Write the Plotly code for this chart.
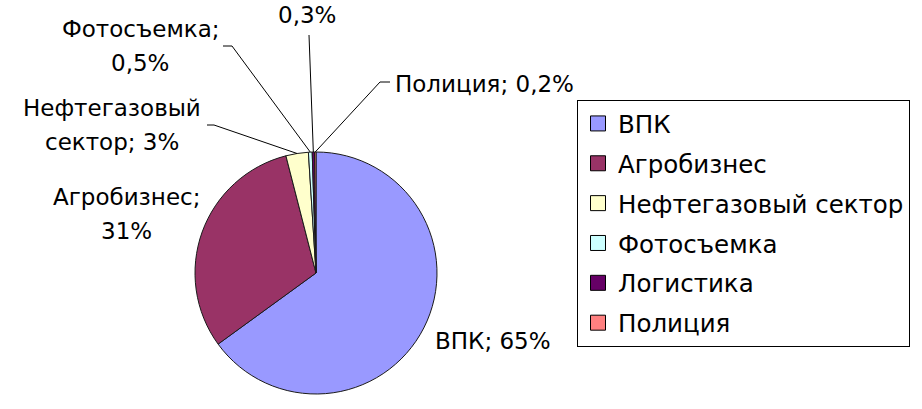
import math
import plotly.graph_objects as go

categories = ["ВПК", "Агробизнес", "Нефтегазовый сектор", "Фотосъемка", "Логистика", "Полиция"]
values = [65, 31, 3, 0.5, 0.3, 0.2]
value_labels = ["65%", "31%", "3%", "0,5%", "0,3%", "0,2%"]
colors = ["#9999FF", "#993366", "#FFFFCC", "#CCFFFF", "#660066", "#FF8080"]

W, H = 922, 409
FONT = "DejaVu Sans, Arial, sans-serif"

# pie geometry in pixels
cx, cy, r = 316, 273, 121

# label layout: (x, first baseline, anchor, wrap) and leader line start (outer end, elbow)
label_pos = [
    (433, 349, "left", False),
    (126, 205, "center", True),
    (112, 116, "center", True),
    (140, 37, "center", True),
    (307, -11, "center", True),
    (393, 92, "left", False),
]
leaders = [
    None,
    None,
    [(207, 125), (214, 125)],
    [(223, 46), (232, 46)],
    [(309, 35)],
    [(390, 82), (380, 82)],
]
line_gap = 34
fs = 23

fig = go.Figure()

fig.add_trace(
    go.Pie(
        labels=categories,
        values=values,
        sort=False,
        direction="clockwise",
        rotation=0,
        textinfo="none",
        hoverinfo="label+percent",
        showlegend=False,
        marker=dict(colors=colors, line=dict(color="#1a1a1a", width=1)),
        domain=dict(
            x=[(cx - r) / W, (cx + r) / W],
            y=[(H - cy - r) / H, (H - cy + r) / H],
        ),
    )
)

# legend entries (one group per category so the gap can be set)
for name, col in zip(categories, colors):
    fig.add_trace(go.Scatter(
        x=[None], y=[None], mode="markers", name=name,
        legendgroup=name,
        marker=dict(symbol="square", size=15, color=col,
                    line=dict(color="#000000", width=1)),
        hoverinfo="skip",
    ))

total = sum(values)
cum = 0
for i, v in enumerate(values):
    mid = (cum + v / 2) / total * 2 * math.pi
    cum += v
    ex = cx + r * math.sin(mid)
    ey = cy - r * math.cos(mid)

    text = f"{categories[i]}; {value_labels[i]}"
    x, y0, anchor, wrap = label_pos[i]
    lines = text.split(" ", 1) if wrap else [text]
    for k, ln in enumerate(lines):
        fig.add_annotation(
            x=x, y=y0 + k * line_gap - 0.35 * fs,
            xref="x", yref="y",
            text=ln, showarrow=False,
            xanchor=anchor, yanchor="middle",
            font=dict(family=FONT, size=fs, color="#000000"),
        )

    if leaders[i]:
        pts = leaders[i] + [(ex, ey)]
        path = "M " + " L ".join(f"{px},{py}" for px, py in pts)
        fig.add_shape(type="path", path=path, xref="x", yref="y",
                      line=dict(color="#000000", width=1))

fig.update_layout(
    width=W,
    height=H,
    margin=dict(l=0, r=0, t=0, b=0),
    paper_bgcolor="white",
    plot_bgcolor="rgba(0,0,0,0)",
    font=dict(family=FONT, color="black"),
    showlegend=True,
    legend=dict(
        x=577 / W,
        y=1 - 100 / H,
        xanchor="left",
        yanchor="top",
        traceorder="grouped",
        tracegroupgap=5,
        bordercolor="#000000",
        borderwidth=1,
        bgcolor="white",
        font=dict(family=FONT, size=24.5, color="black"),
    ),
    xaxis=dict(range=[0, W], visible=False, fixedrange=True),
    yaxis=dict(range=[H, 0], visible=False, fixedrange=True),
)

fig.write_html("out.html", config={"displayModeBar": False},
               post_script="document.body.style.margin='0';")
